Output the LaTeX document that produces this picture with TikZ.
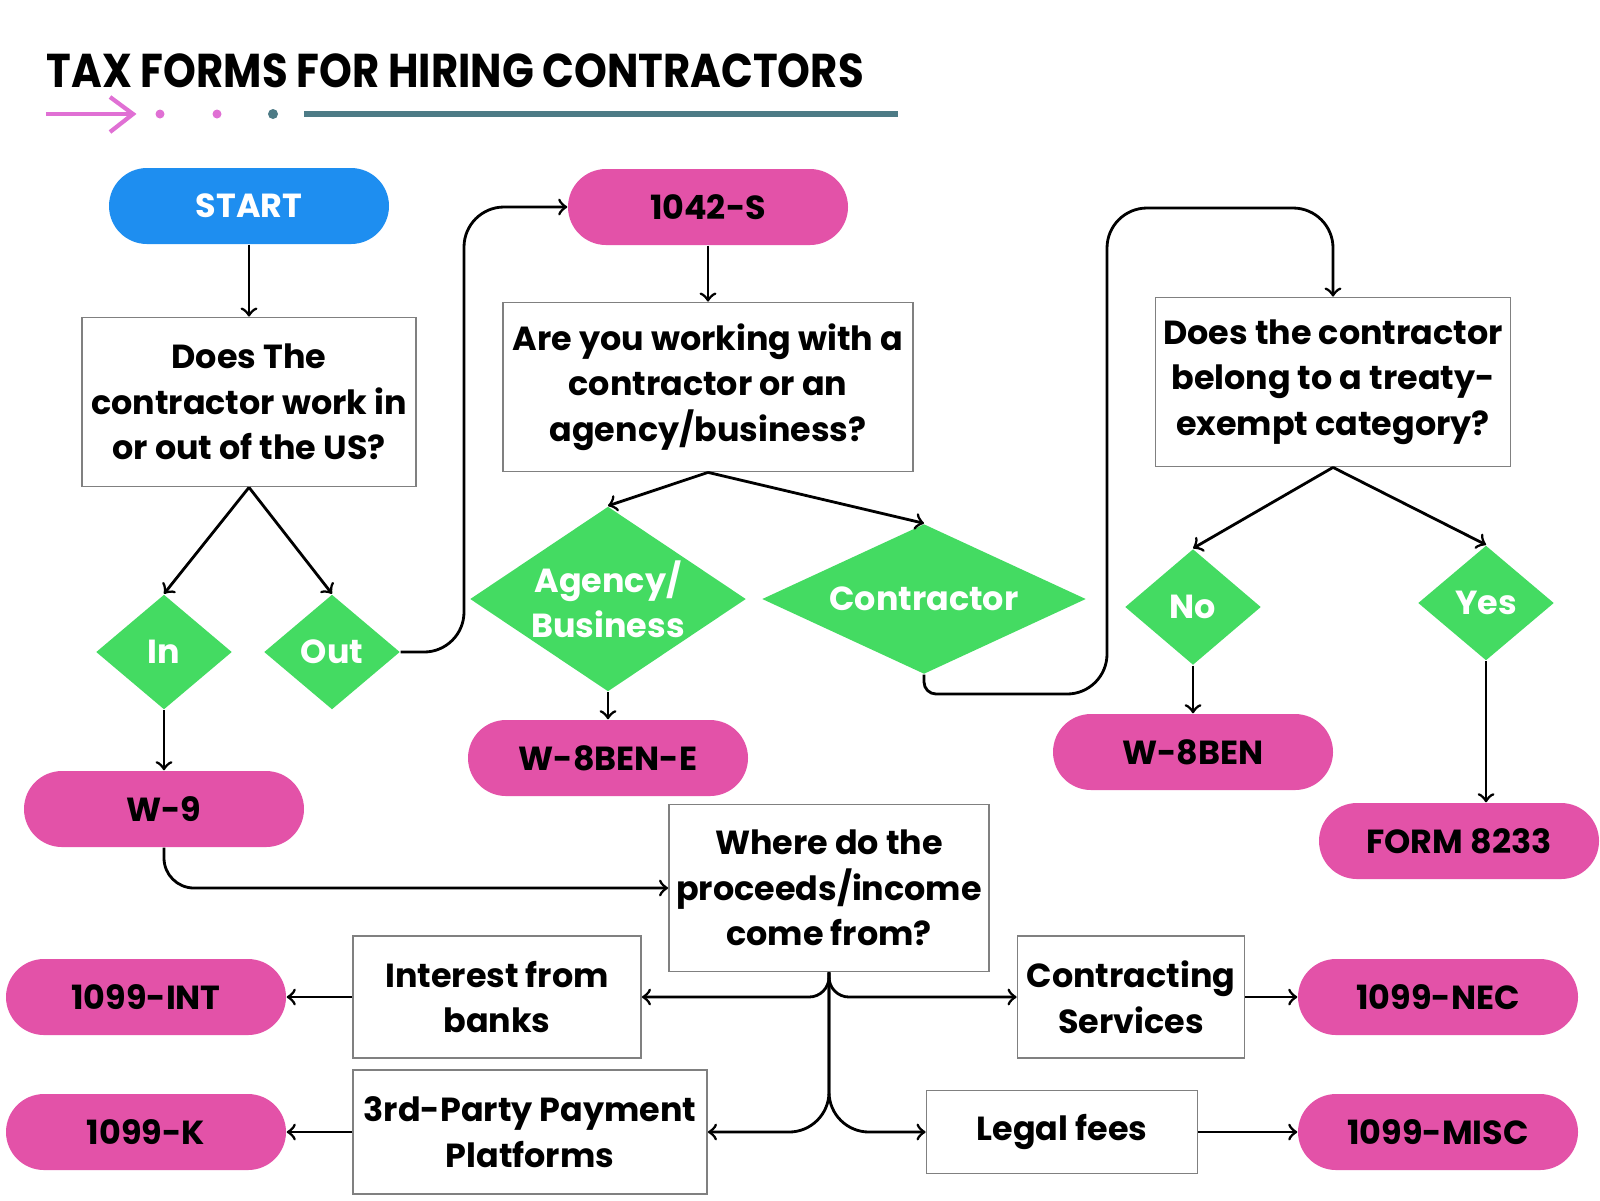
\documentclass[tikz,border=0pt]{standalone}
\usepackage{fontspec}
\setmainfont{Poppins}
\usetikzlibrary{shapes.geometric}

\definecolor{startblue}{HTML}{1E8EF0}
\definecolor{formpink}{HTML}{E352A8}
\definecolor{choicegreen}{HTML}{44DB62}
\definecolor{lineteal}{HTML}{4D7B86}
\definecolor{arrowpink}{HTML}{E070D4}

\tikzset{
  pill/.style={rounded corners=0.38cm, minimum width=2.8cm, minimum height=0.76cm,
    inner sep=0pt, font=\bfseries\fontsize{9.5}{13}\selectfont},
  form/.style={pill, fill=formpink},
  startbox/.style={pill, fill=startblue, text=white},
  question/.style={draw=gray, line width=0.5pt, align=center, inner sep=0pt,
    font=\bfseries\fontsize{9.5}{13}\selectfont},
  choice/.style={diamond, fill=choicegreen, text=white, inner sep=0pt, align=center,
    font=\bfseries\fontsize{9.5}{12.8}\selectfont},
  flow/.style={->, line width=0.8pt},
}

\begin{document}
\begin{tikzpicture}[x=1cm, y=-1cm]
      \useasboundingbox (0,0) rectangle (16,12);

      % header
      \node[anchor=west, inner sep=0pt, font=\bfseries\fontsize{13.5}{16}\selectfont] (title) at (0.46,0.71)
        {\scalebox{0.88}[1]{TAX FORMS FOR HIRING CONTRACTORS}};
      \draw[arrowpink, line width=1.2pt] (0.46,1.14) -- (1.33,1.14);
      \draw[arrowpink, line width=1.2pt] (1.10,0.97) -- (1.33,1.14) -- (1.10,1.32);
      \fill[arrowpink] (1.60,1.14) circle (0.045);
      \fill[arrowpink] (2.17,1.14) circle (0.045);
      \fill[lineteal] (2.73,1.14) circle (0.05);
      \draw[lineteal, line width=1.5pt] (3.04,1.14) -- (8.98,1.14);

      % left column
      \node[startbox] (start) at (2.49,2.06) {START};
      \node[question, minimum width=3.34cm, minimum height=1.69cm] (usq) at (2.49,4.02)
        {Does The\\contractor work in\\or out of the US?};
      \node[choice, minimum width=1.36cm, minimum height=1.15cm, aspect=1.18] (in) at (1.64,6.52) {In};
      \node[choice, minimum width=1.36cm, minimum height=1.15cm, aspect=1.18] (out) at (3.32,6.52) {Out};
      \node[form] (w9) at (1.64,8.09) {W-9};

      % middle column
      \node[form] (s1042) at (7.08,2.07) {1042-S};
      \node[question, minimum width=4.10cm, minimum height=1.69cm] (typeq) at (7.08,3.87)
        {Are you working with a\\contractor or an\\agency/business?};
      \node[choice, minimum width=2.76cm, minimum height=1.85cm, aspect=1.5] (agency) at (6.08,5.99)
        {Agency/\\Business};
      \node[choice, minimum width=3.24cm, minimum height=1.50cm, aspect=2.16] (contractor) at (9.24,5.99)
        {Contractor};
      \node[form] (w8bene) at (6.08,7.58) {W-8BEN-E};

      % right column
      \node[question, minimum width=3.55cm, minimum height=1.69cm] (treatyq) at (13.33,3.82)
        {Does the contractor\\belong to a treaty-\\exempt category?};
      \node[choice, minimum width=1.36cm, minimum height=1.16cm, aspect=1.17] (no) at (11.93,6.07) {No};
      \node[choice, minimum width=1.36cm, minimum height=1.15cm, aspect=1.18] (yes) at (14.86,6.03) {Yes};
      \node[form] (w8ben) at (11.93,7.52) {W-8BEN};
      \node[form] (f8233) at (14.59,8.41) {FORM 8233};

      % income part
      \node[question, minimum width=3.20cm, minimum height=1.67cm] (incomeq) at (8.29,8.88)
        {Where do the\\proceeds/income\\come from?};
      \node[question, minimum width=2.88cm, minimum height=1.22cm] (interest) at (4.97,9.97)
        {Interest from\\banks};
      \node[question, minimum width=2.27cm, minimum height=1.22cm] (contracting) at (11.31,9.97)
        {Contracting\\Services};
      \node[question, minimum width=3.54cm, minimum height=1.24cm] (platform) at (5.30,11.32)
        {3rd-Party Payment\\Platforms};
      \node[question, minimum width=2.71cm, minimum height=0.83cm] (legal) at (10.62,11.32)
        {Legal fees};
      \node[form] (f1099int) at (1.46,9.97) {1099-INT};
      \node[form] (f1099nec) at (14.38,9.97) {1099-NEC};
      \node[form] (f1099k) at (1.46,11.32) {1099-K};
      \node[form] (f1099misc) at (14.38,11.32) {1099-MISC};

      % bends
      \coordinate (outbend) at (4.64,2.07);
      \coordinate (loopbot) at (11.07,6.94);
      \coordinate (looptop) at (11.07,2.08);

      % connectors
      \draw[flow] (start) -- (usq);
      \draw[flow] (usq.south) -- (in.north);
      \draw[flow] (usq.south) -- (out.north);
      \draw[flow] (in) -- (w9);
      \draw[flow, rounded corners=0.4cm] (out.east) -| (outbend) -- (s1042.west);
      \draw[flow] (s1042) -- (typeq);
      \draw[flow] (typeq.south) -- (agency.north);
      \draw[flow] (typeq.south) -- (contractor.north);
      \draw[flow] (agency) -- (w8bene);
      \draw[flow] (contractor.south) [rounded corners=0.12cm] -- (contractor.south |- loopbot)
        [rounded corners=0.4cm] -- (loopbot) -- (looptop) -| (treatyq.north);
      \draw[flow] (treatyq.south) -- (no.north);
      \draw[flow] (treatyq.south) -- (yes.north);
      \draw[flow] (no) -- (w8ben);
      \draw[flow] (yes.south) -- (yes.south |- f8233.north);
      \draw[flow, rounded corners=0.3cm] (w9.south) |- (incomeq.west);
      \draw[flow, rounded corners=0.2cm] (incomeq.south) |- (interest.east);
      \draw[flow, rounded corners=0.2cm] (incomeq.south) |- (contracting.west);
      \draw[flow, rounded corners=0.4cm] (incomeq.south) |- (platform.east);
      \draw[flow, rounded corners=0.4cm] (incomeq.south) |- (legal.west);
      \draw[flow] (interest) -- (f1099int);
      \draw[flow] (contracting) -- (f1099nec);
      \draw[flow] (platform) -- (f1099k);
      \draw[flow] (legal) -- (f1099misc);
\end{tikzpicture}
\end{document}
